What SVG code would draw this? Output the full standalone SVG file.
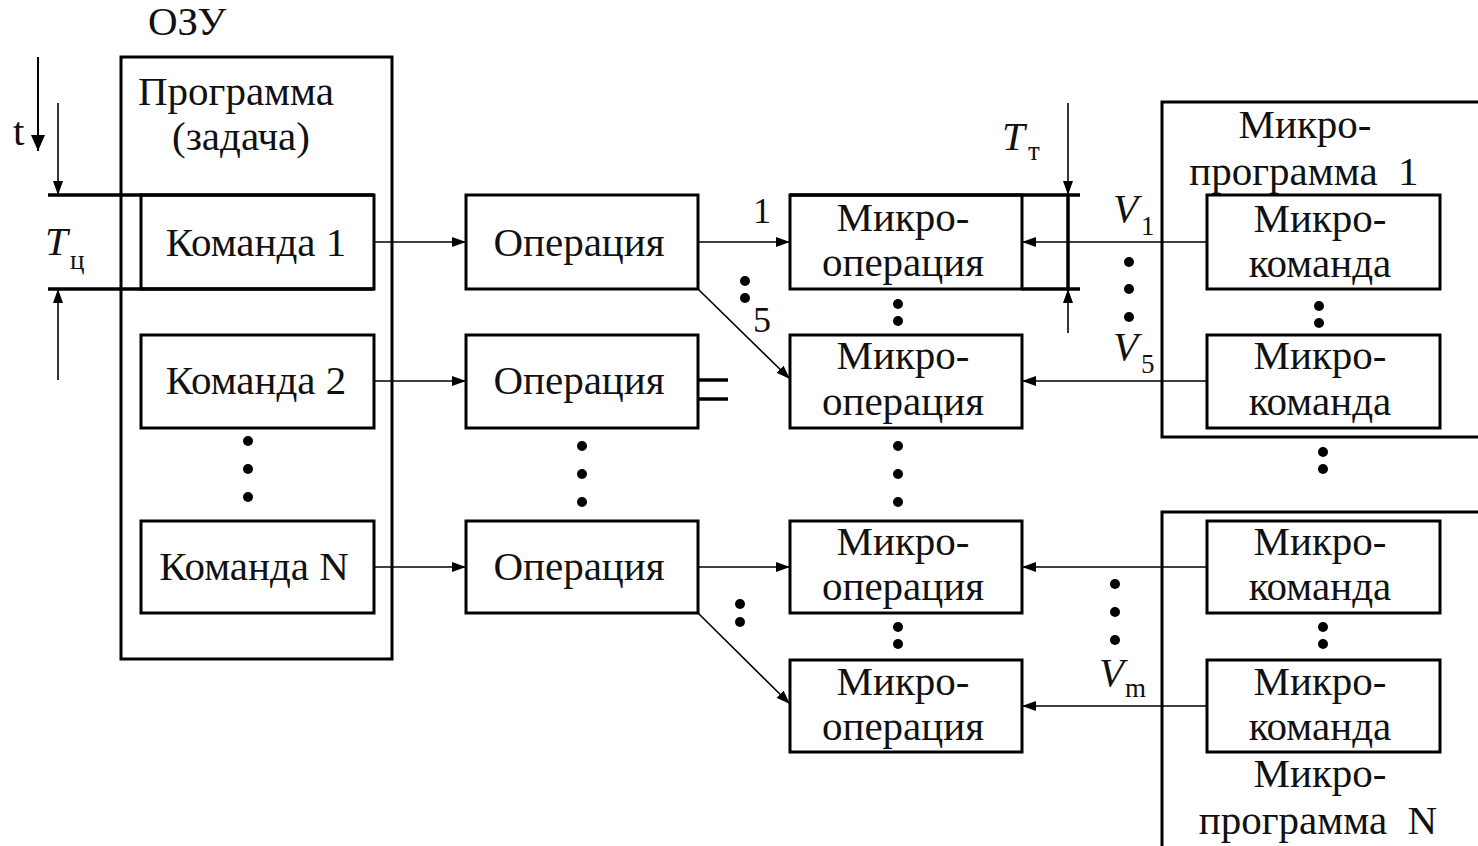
<svg xmlns="http://www.w3.org/2000/svg" width="1478" height="846" viewBox="0 0 1478 846">
<style>
text{font-family:"Liberation Serif","Times New Roman",serif;font-size:41px;fill:#111}
.m{text-anchor:middle}
.it{font-style:italic}
.sub{font-size:27px}
.box{fill:none;stroke:#000;stroke-width:3}
.ln{fill:none;stroke:#000;stroke-width:1.6}
.th{fill:none;stroke:#000;stroke-width:3.5}
.dot{fill:#000}
</style>
<defs>
<marker id="ah" markerWidth="14" markerHeight="10" refX="14" refY="5" orient="auto" markerUnits="userSpaceOnUse">
<path d="M0,0 L14,5 L0,10 Z" fill="#000"/>
</marker>
<marker id="ahb" markerWidth="16" markerHeight="14" refX="16" refY="7" orient="auto" markerUnits="userSpaceOnUse">
<path d="M0,0 L16,7 L0,14 Z" fill="#000"/>
</marker>
</defs>
<rect width="1478" height="846" fill="#fff"/>

<g id="ozu">
<rect class="box" x="121" y="57" width="271" height="602"/>
<text x="148" y="35">ОЗУ</text>
<text x="138" y="105">Программа</text>
<text x="172" y="150">(задача)</text>
</g>

<g id="cmd1"><rect class="box" x="141" y="195" width="233" height="94"/><text class="m" x="256" y="256">Команда 1</text></g>
<g id="cmd2"><rect class="box" x="141" y="335" width="233" height="93"/><text class="m" x="256" y="394">Команда 2</text></g>
<g id="cmdN"><rect class="box" x="141" y="521" width="233" height="92"/><text class="m" x="254" y="580">Команда N</text></g>

<g id="op1"><rect class="box" x="466" y="195" width="232" height="94"/><text class="m" x="579" y="256">Операция</text></g>
<g id="op2"><rect class="box" x="466" y="335" width="232" height="93"/><text class="m" x="579" y="394">Операция</text></g>
<g id="opN"><rect class="box" x="466" y="521" width="232" height="92"/><text class="m" x="579" y="580">Операция</text></g>

<g id="mo1"><rect class="box" x="790" y="195" width="232" height="94"/><text class="m" x="903" y="231">Микро-</text><text class="m" x="903" y="276">операция</text></g>
<g id="mo2"><rect class="box" x="790" y="335" width="232" height="93"/><text class="m" x="903" y="369">Микро-</text><text class="m" x="903" y="415">операция</text></g>
<g id="mo3"><rect class="box" x="790" y="521" width="232" height="92"/><text class="m" x="903" y="555">Микро-</text><text class="m" x="903" y="600">операция</text></g>
<g id="mo4"><rect class="box" x="790" y="660" width="232" height="92"/><text class="m" x="903" y="695">Микро-</text><text class="m" x="903" y="740">операция</text></g>

<g id="mp1">
<rect class="box" x="1162" y="102" width="330" height="335"/>
<text class="m" x="1305" y="138">Микро-</text>
<text class="m" x="1304" y="185" xml:space="preserve">программа  1</text>
</g>
<g id="mk1"><rect class="box" x="1207" y="195" width="233" height="94"/><text class="m" x="1320" y="232">Микро-</text><text class="m" x="1320" y="277">команда</text></g>
<g id="mk2"><rect class="box" x="1207" y="335" width="233" height="93"/><text class="m" x="1320" y="369">Микро-</text><text class="m" x="1320" y="415">команда</text></g>

<g id="mpN">
<rect class="box" x="1162" y="512" width="330" height="345"/>
<text class="m" x="1320" y="787">Микро-</text>
<text class="m" x="1318" y="834" xml:space="preserve">программа  N</text>
</g>
<g id="mk3"><rect class="box" x="1207" y="521" width="233" height="92"/><text class="m" x="1320" y="555">Микро-</text><text class="m" x="1320" y="600">команда</text></g>
<g id="mk4"><rect class="box" x="1207" y="660" width="233" height="92"/><text class="m" x="1320" y="695">Микро-</text><text class="m" x="1320" y="740">команда</text></g>

<g id="timing">
<line class="th" x1="48" y1="195" x2="374" y2="195"/>
<line class="th" x1="48" y1="289" x2="374" y2="289"/>
<line x1="38" y1="57" x2="38" y2="151" stroke="#000" stroke-width="2" marker-end="url(#ahb)"/>
<text x="13" y="145">t</text>
<line class="ln" x1="58" y1="103" x2="58" y2="195" marker-end="url(#ah)"/>
<line class="ln" x1="58" y1="380" x2="58" y2="289" marker-end="url(#ah)"/>
<text class="it" x="45" y="255">T</text><text class="sub" x="70" y="269">ц</text>
<line class="th" x1="790" y1="195" x2="1080" y2="195"/>
<line class="th" x1="1022" y1="289" x2="1080" y2="289"/>
<line class="th" x1="1068" y1="195" x2="1068" y2="289"/>
<line class="ln" x1="1068" y1="103" x2="1068" y2="195" marker-end="url(#ah)"/>
<line class="ln" x1="1068" y1="333" x2="1068" y2="289" marker-end="url(#ah)"/>
<text class="it" x="1002" y="150">T</text><text class="sub" x="1028" y="160">т</text>
<line class="th" x1="698" y1="380" x2="728" y2="380"/>
<line class="th" x1="698" y1="399" x2="728" y2="399"/>
</g>

<g id="connectors">
<line class="ln" x1="374" y1="242" x2="466" y2="242" marker-end="url(#ah)"/>
<line class="ln" x1="374" y1="381" x2="466" y2="381" marker-end="url(#ah)"/>
<line class="ln" x1="374" y1="567" x2="466" y2="567" marker-end="url(#ah)"/>
<line class="ln" x1="698" y1="242" x2="790" y2="242" marker-end="url(#ah)"/>
<line class="ln" x1="698" y1="289" x2="790" y2="379" marker-end="url(#ah)"/>
<line class="ln" x1="698" y1="567" x2="790" y2="567" marker-end="url(#ah)"/>
<line class="ln" x1="698" y1="613" x2="790" y2="704" marker-end="url(#ah)"/>
<line class="ln" x1="1207" y1="242" x2="1022" y2="242" marker-end="url(#ah)"/>
<line class="ln" x1="1207" y1="381" x2="1022" y2="381" marker-end="url(#ah)"/>
<line class="ln" x1="1207" y1="567" x2="1022" y2="567" marker-end="url(#ah)"/>
<line class="ln" x1="1207" y1="706" x2="1022" y2="706" marker-end="url(#ah)"/>
</g>

<g id="labels">
<text x="753" y="223" style="font-size:36px">1</text>
<text x="753" y="332" style="font-size:36px">5</text>
<text class="it" x="1113" y="222">V</text><text class="sub" x="1141" y="235">1</text>
<text class="it" x="1113" y="360">V</text><text class="sub" x="1141" y="373">5</text>
<text class="it" x="1099" y="686">V</text><text class="sub" x="1125" y="697">m</text>
</g>

<g id="dots">
<circle class="dot" cx="248" cy="441" r="5"/><circle class="dot" cx="248" cy="469" r="5"/><circle class="dot" cx="248" cy="497" r="5"/>
<circle class="dot" cx="582" cy="446" r="5"/><circle class="dot" cx="582" cy="474" r="5"/><circle class="dot" cx="582" cy="502" r="5"/>
<circle class="dot" cx="745" cy="281" r="5"/><circle class="dot" cx="745" cy="298" r="5"/>
<circle class="dot" cx="740" cy="604" r="5"/><circle class="dot" cx="740" cy="622" r="5"/>
<circle class="dot" cx="898" cy="304" r="5"/><circle class="dot" cx="898" cy="321" r="5"/>
<circle class="dot" cx="898" cy="446" r="5"/><circle class="dot" cx="898" cy="474" r="5"/><circle class="dot" cx="898" cy="502" r="5"/>
<circle class="dot" cx="898" cy="627" r="5"/><circle class="dot" cx="898" cy="644" r="5"/>
<circle class="dot" cx="1129" cy="262" r="5"/><circle class="dot" cx="1129" cy="289" r="5"/><circle class="dot" cx="1129" cy="317" r="5"/>
<circle class="dot" cx="1115" cy="584" r="5"/><circle class="dot" cx="1115" cy="612" r="5"/><circle class="dot" cx="1115" cy="640" r="5"/>
<circle class="dot" cx="1319" cy="306" r="5"/><circle class="dot" cx="1319" cy="323" r="5"/>
<circle class="dot" cx="1323" cy="452" r="5"/><circle class="dot" cx="1323" cy="469" r="5"/>
<circle class="dot" cx="1323" cy="627" r="5"/><circle class="dot" cx="1323" cy="644" r="5"/>
</g>
</svg>
